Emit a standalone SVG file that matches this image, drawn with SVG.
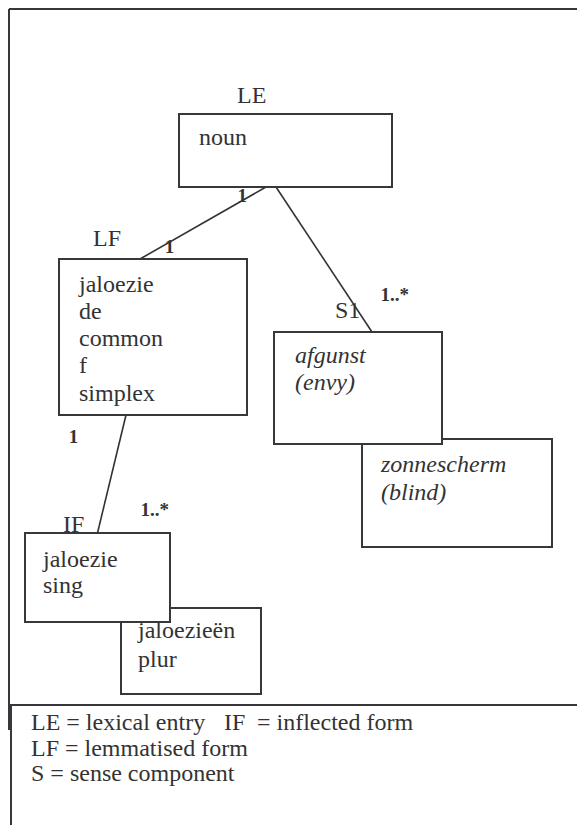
<svg xmlns="http://www.w3.org/2000/svg" width="577" height="825" viewBox="0 0 577 825" font-family="'Liberation Serif', 'Times New Roman', 'DejaVu Serif', serif">
<style>
.box{fill:#fff;stroke:#38383c;stroke-width:2}
.ln{stroke:#333;stroke-width:1.6;fill:none}
.fr{stroke:#38383c;stroke-width:2;fill:none}
text{font-family:'Liberation Serif', 'Times New Roman', 'DejaVu Serif', serif;fill:#333}
.t{font-size:24px}
.i{font-size:24px;font-style:italic}
.m{font-size:19px;font-weight:bold}
</style>
<rect width="577" height="825" fill="#fff"/>
<g id="frame">
<path class="fr" d="M9,9H577M9,9V730M10,705H577M11,705V825"/>
</g>
<g id="connectors">
<line class="ln" x1="266" y1="187" x2="140" y2="259"/>
<line class="ln" x1="276" y1="187" x2="372" y2="332"/>
<line class="ln" x1="126" y1="415" x2="97.5" y2="533"/>
</g>
<g id="LE">
<rect class="box" x="179" y="114" width="213" height="73"/>
<text class="t" x="237" y="103">LE</text>
<text class="t" x="199" y="145" font-size="21">noun</text>
</g>
<g id="LF">
<rect class="box" x="59" y="259" width="188" height="156"/>
<text class="t" x="93" y="246">LF</text>
<text class="t" x="79" y="292">jaloezie</text>
<text class="t" x="79" y="319">de</text>
<text class="t" x="79" y="346">common</text>
<text class="t" x="79" y="373">f</text>
<text class="t" x="79" y="401">simplex</text>
</g>
<g id="S2">
<rect class="box" x="362" y="439" width="190" height="108"/>
<text class="i" x="381" y="472">zonnescherm</text>
<text class="i" x="381" y="500">(blind)</text>
</g>
<g id="S1">
<rect class="box" x="274" y="332" width="168" height="112"/>
<text class="t" x="335" y="318">S1</text>
<text class="i" x="295" y="363">afgunst</text>
<text class="i" x="295" y="390">(envy)</text>
</g>
<g id="IF2">
<rect class="box" x="121" y="608" width="140" height="86"/>
<text class="t" x="138" y="638">jaloezieën</text>
<text class="t" x="138" y="667">plur</text>
</g>
<g id="IF1">
<rect class="box" x="25" y="533" width="145" height="89"/>
<text class="t" x="63" y="532">IF</text>
<text class="t" x="43" y="567">jaloezie</text>
<text class="t" x="43" y="593">sing</text>
</g>
<g id="multiplicities">
<text class="m" x="237.4" y="202">1</text>
<text class="m" x="164.7" y="253">1</text>
<text class="m" x="380.4" y="301">1..*</text>
<text class="m" x="68.7" y="443">1</text>
<text class="m" x="140.4" y="516">1..*</text>
</g>
<g id="legend">
<text class="t" x="31" y="730">LE = lexical entry</text>
<text class="t" x="224" y="730">IF</text>
<text class="t" x="257" y="730">= inflected form</text>
<text class="t" x="31" y="756">LF = lemmatised form</text>
<text class="t" x="31" y="781">S = sense component</text>
</g>
</svg>
